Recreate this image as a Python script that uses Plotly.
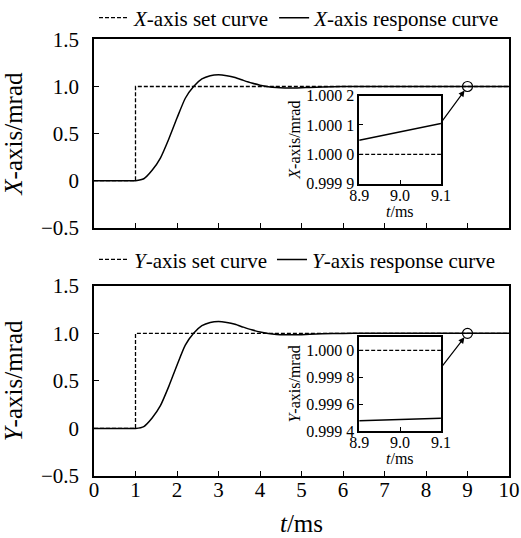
import plotly.graph_objects as go

# time axis in ms, response (both panels look the same)
t_resp = [0, 0.5, 1.0, 1.2, 1.4, 1.6, 1.8, 2.0, 2.2, 2.4, 2.6, 2.8, 3.0, 3.2, 3.4,
          3.6, 3.8, 4.0, 4.2, 4.4, 4.6, 4.8, 5.0, 5.2, 5.5, 6.0, 6.5, 7.0, 8.0, 9.0, 10.0]
x_resp = [0, 0, 0, 0.02, 0.11, 0.24, 0.44, 0.665, 0.875, 1.0, 1.08, 1.115, 1.125, 1.115, 1.095,
          1.065, 1.037, 1.014, 0.998, 0.989, 0.985, 0.984, 0.986, 0.99, 0.995, 0.999, 1.001, 1.0, 1.0, 1.0, 1.0]
y_resp = x_resp

t_set = [0, 1, 1, 10]
v_set = [0, 0, 1, 1]

# zoomed windows
t_zoom = [8.9, 9.1]
x_zoom_resp = [1.000048, 1.000105]
y_zoom_resp = [0.999475, 0.999495]
zoom_set = [1.0, 1.0]
zoom_pt = (9.0, 1.0)

main_ticks = [-0.5, 0, 0.5, 1.0, 1.5]
main_ticktext = ["\u22120.5", "0", "0.5", "1.0", "1.5"]
x_ins_ticks = [0.9999, 1.0, 1.0001, 1.0002]
x_ins_text = ["0.999 9", "1.000 0", "1.000 1", "1.000 2"]
y_ins_ticks = [0.9994, 0.9996, 0.9998, 1.0]
y_ins_text = ["0.999 4", "0.999 6", "0.999 8", "1.000 0"]

FONT = "Liberation Serif, Times New Roman, serif"
fig = go.Figure()

dash = dict(color="black", width=1.3, dash="4px,2px")
solid = dict(color="black", width=1.5)

fig.add_trace(go.Scatter(x=t_set, y=v_set, mode="lines", line=dash, name="<i>X</i>-axis set curve",
                         xaxis="x", yaxis="y", legend="legend"))
fig.add_trace(go.Scatter(x=t_resp, y=x_resp, mode="lines", line=dict(solid, shape="spline", smoothing=0.6),
                         name="<i>X</i>-axis response curve", xaxis="x", yaxis="y", legend="legend"))
fig.add_trace(go.Scatter(x=t_set, y=v_set, mode="lines", line=dash, name="<i>Y</i>-axis set curve",
                         xaxis="x2", yaxis="y2", legend="legend2"))
fig.add_trace(go.Scatter(x=t_resp, y=y_resp, mode="lines", line=dict(solid, shape="spline", smoothing=0.6),
                         name="<i>Y</i>-axis response curve", xaxis="x2", yaxis="y2", legend="legend2"))

# circles marking the zoomed point
for xa, ya in [("x", "y"), ("x2", "y2")]:
    fig.add_trace(go.Scatter(x=[zoom_pt[0]], y=[zoom_pt[1]], mode="markers", showlegend=False,
                             marker=dict(symbol="circle-open", size=10, color="black", line=dict(width=1.2)),
                             xaxis=xa, yaxis=ya))

# insets
fig.add_trace(go.Scatter(x=t_zoom, y=zoom_set, mode="lines", line=dash, showlegend=False, xaxis="x3", yaxis="y3"))
fig.add_trace(go.Scatter(x=t_zoom, y=x_zoom_resp, mode="lines", line=solid, showlegend=False, xaxis="x3", yaxis="y3"))
fig.add_trace(go.Scatter(x=t_zoom, y=zoom_set, mode="lines", line=dash, showlegend=False, xaxis="x4", yaxis="y4"))
fig.add_trace(go.Scatter(x=t_zoom, y=y_zoom_resp, mode="lines", line=solid, showlegend=False, xaxis="x4", yaxis="y4"))

ax_common = dict(showline=True, linecolor="black", linewidth=1.5, mirror=True, showgrid=False,
                 zeroline=False, ticks="inside", ticklen=5, tickwidth=1.2, tickcolor="black")
ins_font = dict(size=16)

fig.update_layout(
    width=521, height=538,
    margin=dict(l=94, r=12, t=0, b=62),
    paper_bgcolor="white", plot_bgcolor="white",
    font=dict(family=FONT, size=21, color="black"),
    xaxis=dict(ax_common, domain=[0, 1], range=[0, 10], dtick=1, showticklabels=False, anchor="y",
               automargin="bottom"),
    yaxis=dict(ax_common, domain=[0.5675, 0.998], range=[-0.5, 1.5], tickvals=main_ticks, ticktext=main_ticktext,
               ticklabelstandoff=9, title=dict(text="<i>X</i>-axis/mrad", standoff=14), anchor="x",
               automargin="left"),
    xaxis2=dict(ax_common, domain=[0, 1], range=[0, 10], dtick=1, anchor="y2", ticklabelstandoff=-6,
                title=dict(text="<i>t</i>/ms", standoff=14), automargin="bottom"),
    yaxis2=dict(ax_common, domain=[0, 0.4348], range=[-0.5, 1.5], tickvals=main_ticks, ticktext=main_ticktext,
                ticklabelstandoff=9, title=dict(text="<i>Y</i>-axis/mrad", standoff=14), anchor="x2",
                automargin="left"),
    xaxis3=dict(ax_common, domain=[0.639, 0.836], range=[8.9, 9.1], tickvals=[8.9, 9.0, 9.1],
                ticktext=["8.9", "9.0", "9.1"], tickfont=ins_font, anchor="y3", ticklen=4,
                ticklabelstandoff=-4, automargin="bottom"),
    yaxis3=dict(ax_common, domain=[0.6682, 0.8696], range=[0.9999, 1.0002], tickvals=x_ins_ticks,
                ticktext=x_ins_text, tickfont=ins_font, anchor="x3", ticklen=4, automargin="left",
                title=dict(text="<i>X</i>-axis/mrad", font=ins_font, standoff=2)),
    xaxis4=dict(ax_common, domain=[0.639, 0.836], range=[8.9, 9.1], tickvals=[8.9, 9.0, 9.1],
                ticktext=["8.9", "9.0", "9.1"], tickfont=ins_font, anchor="y4", ticklen=4,
                ticklabelstandoff=-4, automargin="bottom"),
    yaxis4=dict(ax_common, domain=[0.103, 0.318], range=[0.9994, 1.0001], tickvals=y_ins_ticks,
                ticktext=y_ins_text, tickfont=ins_font, anchor="x4", ticklen=4, automargin="left",
                title=dict(text="<i>Y</i>-axis/mrad", font=ins_font, standoff=2)),
    legend=dict(orientation="h", x=0, xanchor="left", yref="container", y=0.9665, yanchor="middle",
                bgcolor="rgba(0,0,0,0)", font=dict(size=21), itemwidth=30, tracegroupgap=0),
    legend2=dict(orientation="h", x=0, xanchor="left", y=0.4943, yanchor="middle",
                 bgcolor="rgba(0,0,0,0)", font=dict(size=21), itemwidth=30, tracegroupgap=0),
    showlegend=True,
)

# inset x titles, kept close under the tick labels
for xa, ya in [("x3", "y3"), ("x4", "y4")]:
    fig.add_annotation(text="<i>t</i>/ms", xref=f"{xa} domain", yref=f"{ya} domain", x=0.5, y=0,
                       xanchor="center", yanchor="top", yshift=-17, showarrow=False, font=ins_font)

# arrows from inset edge to the circled point
fig.add_annotation(x=zoom_pt[0], y=zoom_pt[1], xref="x", yref="y", axref="pixel", ayref="pixel",
                   ax=-27, ay=37, showarrow=True, arrowhead=2, arrowsize=1, arrowwidth=1.2,
                   arrowcolor="black", standoff=5, text="")
fig.add_annotation(x=zoom_pt[0], y=zoom_pt[1], xref="x2", yref="y2", axref="pixel", ayref="pixel",
                   ax=-27, ay=35, showarrow=True, arrowhead=2, arrowsize=1, arrowwidth=1.2,
                   arrowcolor="black", standoff=5, text="")

fig.write_html("out.html", config={"displayModeBar": False},
               post_script="document.body.style.margin='0px';")
